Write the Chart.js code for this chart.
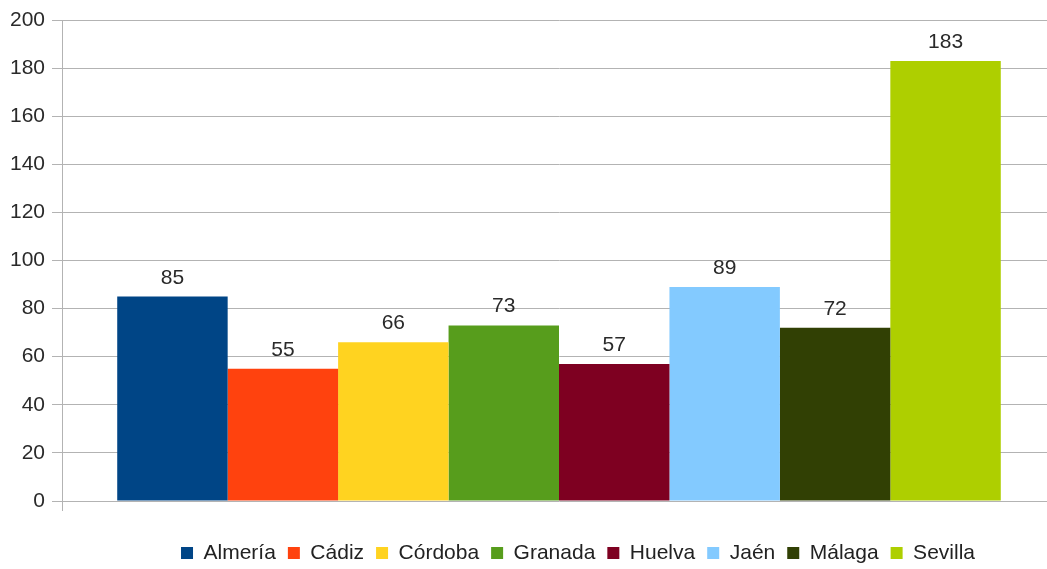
<!DOCTYPE html>
<html>
<head>
<meta charset="utf-8">
<script src="https://cdn.jsdelivr.net/npm/chart.js@4/dist/chart.umd.min.js"></script>
<style>
  html, body { margin: 0; padding: 0; background: #ffffff; overflow: hidden; }
  #wrap { width: 1047px; height: 569px; position: relative; overflow: hidden; }
  #c { position: absolute; left: 0; top: 0; }
</style>
</head>
<body>
<div id="wrap"><canvas id="c" width="1060" height="569"></canvas></div>
<script>
const provinces = ["Almería", "Cádiz", "Córdoba", "Granada", "Huelva", "Jaén", "Málaga", "Sevilla"];
const values = [85, 55, 66, 73, 57, 89, 72, 183];
const colors = ["#004586", "#ff420e", "#ffd320", "#579d1c", "#7e0021", "#83caff", "#314004", "#aecf00"];
const yTicks = [0, 20, 40, 60, 80, 100, 120, 140, 160, 180, 200];

const FONT = "'Liberation Sans', Arial, sans-serif";
const FS = 21;
const LEG_PAD = 12;

const valueLabels = {
  id: 'valueLabels',
  afterDatasetsDraw(chart) {
    const ctx = chart.ctx;
    ctx.save();
    ctx.font = FS + "px " + FONT;
    ctx.fillStyle = "#2a2a2a";
    ctx.textAlign = "center";
    ctx.textBaseline = "alphabetic";
    chart.data.datasets.forEach((ds, i) => {
      const meta = chart.getDatasetMeta(i);
      meta.data.forEach((bar, j) => {
        ctx.fillText(String(ds.data[j]), bar.x, bar.y - 13);
      });
    });
    ctx.restore();
  }
};

// place legend centred where the reference has it
const legendPlace = {
  id: 'legendPlace',
  afterLayout(chart) {
    const L = chart.legend;
    if (!L) return;
    const dx = 578 - (L.left + L.right) / 2;
    const dy = 553 - (L.top + LEG_PAD + FS / 2);
    L.left += dx; L.right += dx;
    L.top += dy; L.bottom += dy;
  }
};

const datasets = provinces.map((p, i) => ({
  label: p,
  data: [values[i]],
  backgroundColor: colors[i],
  borderWidth: 0,
  categoryPercentage: 8 / 9,
  barPercentage: 1.0
}));

new Chart(document.getElementById('c'), {
  type: 'bar',
  data: { labels: [''], datasets },
  plugins: [valueLabels, legendPlace],
  options: {
    responsive: false,
    animation: false,
    layout: { padding: { top: 20, right: 4, left: 0, bottom: 0 } },
    plugins: {
      tooltip: { enabled: false },
      legend: {
        position: 'bottom',
        labels: {
          boxWidth: 12,
          boxHeight: 12,
          padding: LEG_PAD,
          color: "#222222",
          font: { family: FONT, size: FS }
        }
      }
    },
    scales: {
      x: {
        offset: true,
        afterFit: s => { s.height = 25; },
        ticks: { display: false },
        grid: { drawOnChartArea: false, drawTicks: true, tickLength: 10, color: "#b3b3b3" },
        border: { display: false }
      },
      y: {
        min: 0,
        max: 200,
        afterBuildTicks: s => { s.ticks = yTicks.map(v => ({ value: v })); },
        afterFit: s => { s.width = 62; s.paddingTop = 0; s.paddingBottom = 0; },
        ticks: {
          color: "#2a2a2a",
          padding: 7,
          font: { family: FONT, size: FS }
        },
        grid: { color: "#b3b3b3", tickLength: 10 },
        border: { color: "#b3b3b3" }
      }
    }
  }
});
</script>
</body>
</html>
